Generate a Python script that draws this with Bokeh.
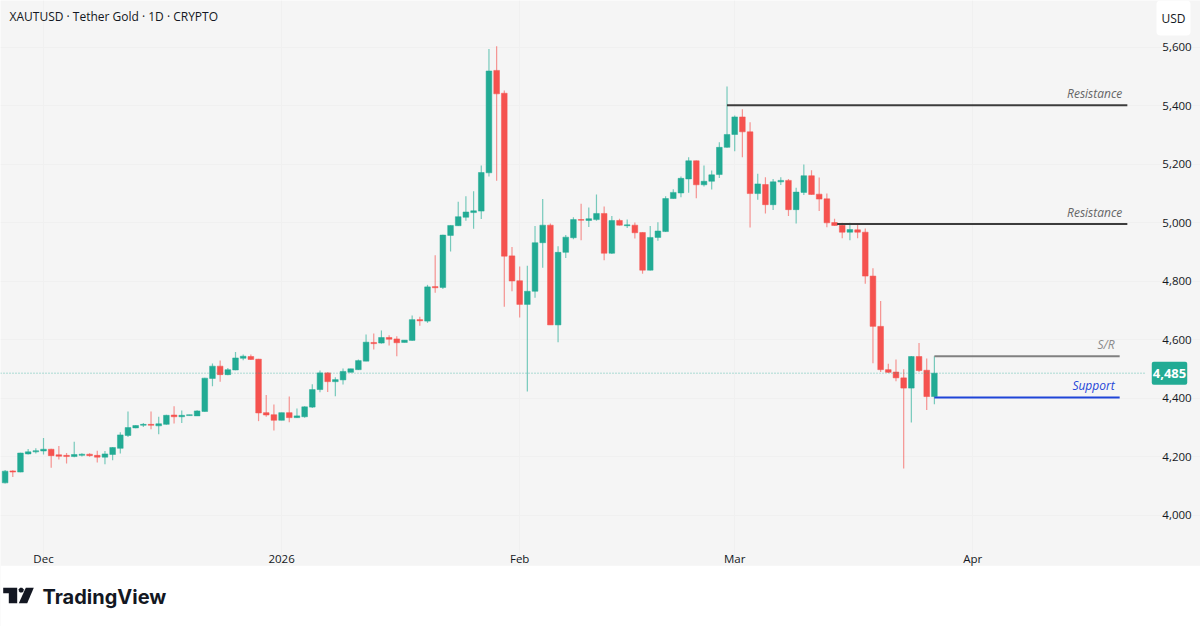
import pandas as pd
from bokeh.embed import file_html
from bokeh.models import BoxAnnotation, ColumnDataSource, FixedTicker, Label, NumeralTickFormatter, PolyAnnotation
from bokeh.plotting import figure
from bokeh.resources import INLINE

GREEN = "#22AB94"
RED = "#F5524F"
BG = "#F5F5F5"
TEXT = "#131722"
FONT = "Open Sans"
PAGE_H = 626

opens = [4110, 4151, 4147, 4209, 4216, 4219, 4225, 4206, 4204, 4200, 4204, 4208, 4204, 4198, 4207, 4228, 4272, 4298, 4307, 4310,
         4305, 4310, 4342, 4336, 4340, 4339, 4354, 4467, 4509, 4480, 4496, 4536, 4542, 4533, 4350, 4343, 4324, 4350, 4333, 4336,
         4369, 4429, 4486, 4456, 4462, 4488, 4497, 4526, 4590, 4588, 4607, 4602, 4590, 4597, 4668, 4663, 4781, 4778, 4956, 4989,
         5018, 5034, 5039, 5170, 5520, 5442, 4886, 4801, 4720, 4765, 4931, 4991, 4650, 4898, 4948, 5010, 5007, 5010, 5031, 4895,
         5007, 4989, 4991, 4966, 4837, 4949, 4969, 5082, 5101, 5149, 5211, 5129, 5141, 5164, 5257, 5301, 5361, 5310, 5099, 5130,
         5061, 5139, 5144, 5044, 5103, 5160, 5097, 5081, 5000, 4991, 4967, 4975, 4967, 4817, 4645, 4497, 4489, 4469, 4434, 4542,
         4495, 4405]
highs = [4154, 4153, 4213, 4226, 4228, 4263, 4227, 4236, 4212, 4251, 4211, 4211, 4220, 4219, 4233, 4283, 4354, 4307, 4315, 4354,
         4336, 4343, 4372, 4357, 4343, 4358, 4469, 4518, 4528, 4503, 4557, 4549, 4549, 4534, 4410, 4378, 4350, 4405, 4364, 4372,
         4447, 4494, 4488, 4471, 4501, 4500, 4532, 4617, 4621, 4631, 4615, 4611, 4598, 4682, 4678, 4787, 4888, 4958, 4991, 5071,
         5090, 5107, 5195, 5593, 5603, 5451, 4916, 4850, 4852, 4988, 5080, 4997, 4919, 4957, 5018, 5064, 5051, 5096, 5055, 5022,
         5013, 5010, 5000, 4967, 4988, 5001, 5090, 5114, 5157, 5223, 5212, 5195, 5178, 5274, 5465, 5366, 5387, 5343, 5167, 5155,
         5149, 5155, 5149, 5119, 5198, 5179, 5154, 5099, 5013, 4999, 4999, 4997, 4980, 4844, 4732, 4517, 4532, 4498, 4544, 4588,
         4535, 4543]
lows = [4108, 4130, 4146, 4207, 4210, 4207, 4162, 4190, 4176, 4198, 4200, 4199, 4180, 4174, 4187, 4210, 4267, 4297, 4301, 4293,
        4276, 4309, 4313, 4315, 4340, 4339, 4353, 4440, 4456, 4478, 4495, 4529, 4530, 4321, 4336, 4289, 4324, 4317, 4332, 4333,
        4366, 4420, 4421, 4406, 4446, 4488, 4496, 4526, 4566, 4586, 4580, 4543, 4590, 4596, 4647, 4657, 4760, 4773, 4901, 4988,
        5006, 4979, 5012, 5157, 5143, 4712, 4765, 4675, 4422, 4743, 4845, 4650, 4591, 4879, 4943, 4939, 4985, 5006, 4871, 4892,
        4990, 4981, 4945, 4825, 4836, 4938, 4968, 5081, 5086, 5102, 5083, 5123, 5113, 5152, 5256, 5244, 5223, 4983, 5078, 5031,
        5043, 5128, 5022, 4997, 5094, 5095, 5039, 4984, 4989, 4946, 4939, 4946, 4791, 4519, 4489, 4486, 4457, 4159, 4316, 4489,
        4359, 4379]
closes = [4150, 4147, 4212, 4216, 4220, 4225, 4203, 4201, 4200, 4207, 4208, 4203, 4198, 4209, 4231, 4274, 4299, 4306, 4310, 4307,
          4312, 4341, 4336, 4341, 4343, 4356, 4468, 4509, 4480, 4497, 4537, 4543, 4532, 4349, 4342, 4324, 4350, 4333, 4339, 4370,
          4429, 4486, 4456, 4463, 4491, 4500, 4528, 4591, 4586, 4607, 4601, 4589, 4598, 4668, 4664, 4780, 4777, 4957, 4990, 5020,
          5036, 5040, 5171, 5518, 5440, 4885, 4800, 4720, 4765, 4931, 4991, 4650, 4898, 4950, 5010, 5008, 5013, 5031, 4895, 5007,
          4991, 4992, 4965, 4837, 4949, 4971, 5082, 5103, 5151, 5211, 5129, 5141, 5163, 5257, 5301, 5361, 5310, 5099, 5132, 5061,
          5139, 5144, 5044, 5104, 5160, 5096, 5080, 4999, 4990, 4967, 4976, 4967, 4817, 4645, 4497, 4488, 4469, 4434, 4542, 4494,
          4405, 4485]
dates = pd.date_range("2025-11-26", periods=len(opens))

price_ticks = [4000, 4200, 4400, 4600, 4800, 5000, 5200, 5400, 5600]
month_ticks = ["2025-12-01", "2026-01-01", "2026-02-01", "2026-03-01", "2026-04-01"]
month_labels = ["Dec", "2026", "Feb", "Mar", "Apr"]

level_names = ["Resistance", "Resistance", "S/R", "Support"]
level_prices = [5401, 4995, 4543, 4402]
level_starts = ["2026-02-28", "2026-03-14 08:00", "2026-03-27", "2026-03-27"]
level_ends = ["2026-04-21 03:00", "2026-04-21 03:00", "2026-04-20 03:00", "2026-04-20 03:00"]
level_colors = ["#3C3C3C", "#3C3C3C", "#808080", "#1F45D8"]
level_text_colors = ["#666666", "#666666", "#8A8A8A", "#1F45D8"]
last_price = 4485


def ms(day):
    return pd.Timestamp(day).value / 1e6


# the frame fills the page, axes and logo sit inside it
X_START = ms("2025-11-25 09:36")
X_PRICE_SCALE = ms("2026-04-23 14:24")
X_END = ms("2026-04-30 15:36")
Y_BOTTOM = 3619
Y_TIME_SCALE = 3930
Y_TOP = 5759

p = figure(x_axis_type="datetime", y_axis_location="right", width=1200, height=PAGE_H,
           x_range=(X_START, X_END), y_range=(Y_BOTTOM, Y_TOP),
           output_backend="svg", toolbar_location=None,
           min_border_left=0, min_border_top=0, min_border_right=0, min_border_bottom=0)
p.outline_line_color = None
p.background_fill_color = BG
p.border_fill_color = BG

p.xaxis.ticker = FixedTicker(ticks=[ms(d) for d in month_ticks])
p.xaxis.major_label_overrides = {ms(d): t for d, t in zip(month_ticks, month_labels)}
p.xaxis.fixed_location = Y_TIME_SCALE
p.yaxis.ticker = FixedTicker(ticks=price_ticks)
p.yaxis.formatter = NumeralTickFormatter(format="0,0")
p.yaxis.fixed_location = X_PRICE_SCALE
for ax in (p.xaxis, p.yaxis):
    ax.axis_line_color = None
    ax.major_tick_line_color = None
    ax.minor_tick_line_color = None
    ax.major_label_text_font = FONT
    ax.major_label_text_font_size = "11.5px"
    ax.major_label_text_color = TEXT
p.xaxis.major_label_standoff = 9
p.yaxis.major_label_standoff = 10
p.grid.grid_line_color = "#F0F0F0"
p.xgrid.bounds = (Y_TIME_SCALE, Y_TOP)
p.ygrid.bounds = (X_START, X_PRICE_SCALE)

# white strip under the chart, holds the logo
p.add_layout(BoxAnnotation(top=3827, fill_color="white", fill_alpha=1, line_color=None, level="underlay"))

colors = [GREEN if c >= o else RED for o, c in zip(opens, closes)]
source = ColumnDataSource(dict(date=dates, open=opens, high=highs, low=lows, close=closes, color=colors))
p.segment("date", "high", "date", "low", color="color", line_width=1.2, line_alpha=0.6, source=source)
p.vbar("date", width=0.74 * 86400000, top="open", bottom="close", fill_color="color", line_color="color",
       line_width=0.5, source=source)

p.line([X_START, X_PRICE_SCALE], [last_price, last_price], line_color=GREEN, line_alpha=0.7, line_width=1,
       line_dash=[1, 2])

for name, price, start, end, color, text_color in zip(level_names, level_prices, level_starts, level_ends,
                                                      level_colors, level_text_colors):
    p.line([ms(start), ms(end)], [price, price], line_color=color, line_width=2)
    p.add_layout(Label(x=ms(end), y=price, text=name, text_align="right", text_baseline="bottom",
                       x_offset=-5, y_offset=3, text_font=FONT, text_font_style="italic",
                       text_font_size="12px", text_color=text_color))

p.add_layout(Label(x=9, y=PAGE_H - 16, x_units="screen", y_units="screen",
                   text="XAUTUSD · Tether Gold · 1D · CRYPTO", text_font=FONT, text_font_size="12px",
                   text_color=TEXT, text_baseline="middle"))
p.add_layout(Label(x=1173, y=PAGE_H - 17.5, x_units="screen", y_units="screen", text="USD", text_align="center",
                   text_baseline="middle", text_font=FONT, text_font_size="12px", text_color=TEXT,
                   background_fill_color="white", padding=(5, 9), border_radius=4))
p.add_layout(Label(x=1169, y=last_price, y_units="data", x_units="screen", text=f"{last_price:,}",
                   text_align="center", text_baseline="middle", text_font=FONT, text_font_size="13px",
                   text_font_style="bold", text_color="white", background_fill_color=GREEN, padding=(1, 7),
                   border_radius=2))

# logo, px from the top left of the page
for xs, ys in [([2.7, 16.7, 16.7, 8.3, 8.3, 2.7], [587.3, 587.3, 602.7, 602.7, 592.7, 592.7]),
               ([33.3, 25.3, 18.3, 26.7], [587.3, 587.3, 602.7, 602.7]),
               ([18.3, 19.6, 21.7, 23.1, 23.1, 21.7, 19.6, 18.3], [588.7, 587.3, 587.3, 588.7, 590.7, 592.1, 592.1, 590.7])]:
    p.add_layout(PolyAnnotation(xs=xs, ys=[PAGE_H - y for y in ys], xs_units="screen", ys_units="screen",
                                fill_color="#131722", fill_alpha=1, line_color=None))
p.add_layout(Label(x=42, y=PAGE_H - 596, x_units="screen", y_units="screen", text="TradingView", text_font="Inter",
                   text_font_size="20px", text_font_style="bold", text_color="#131722", text_baseline="middle"))

open("out.html", "w").write(file_html(p, INLINE))
